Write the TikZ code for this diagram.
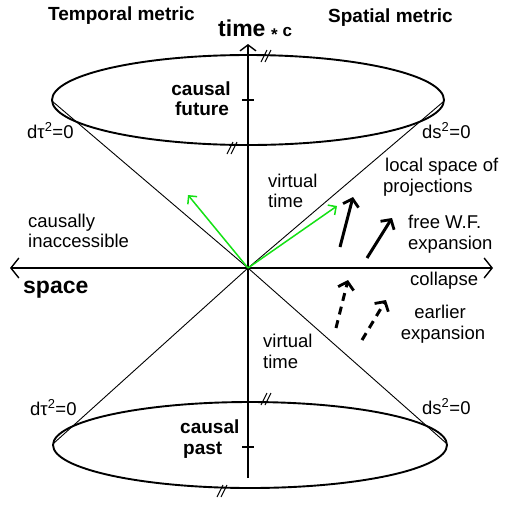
\documentclass[tikz,border=0pt]{standalone}
\usepackage{fontspec}
\setmainfont{Liberation Sans}
\usetikzlibrary{arrows.meta}
\definecolor{vgreen}{RGB}{20,225,20}
\begin{document}
\begin{tikzpicture}[x=1pt,y=-1pt,
  txt/.style={inner sep=0pt, anchor=base west, font=\fontsize{18.5}{22}\selectfont},
  ctxt/.style={txt, anchor=base},
  btxt/.style={inner sep=0pt, anchor=base west, font=\fontsize{19}{22}\selectfont\bfseries},
  cbtxt/.style={btxt, anchor=base},
  bigtxt/.style={inner sep=0pt, anchor=base west, font=\fontsize{23}{26}\selectfont\bfseries},
  axis/.style={line width=1.9pt},
  ell/.style={line width=1.9pt},
  cone/.style={line width=0.9pt},
  tick/.style={line width=1.5pt},
  garrow/.style={draw=vgreen, line width=1.5pt, -{Straight Barb[length=6pt,width=12pt,line width=1.5pt]}},
  barrow/.style={line width=3pt, -{Straight Barb[length=7pt,width=16pt,line width=2.8pt]}},
  darrow/.style={barrow, dash pattern=on 8pt off 6pt},
  brk/.pic={\draw[line width=1pt] (-5,6) -- (1,-6) (-1,6) -- (5,-6);}
]
\useasboundingbox (0,0) rectangle (508,507);
% key points
\coordinate (O) at (248,268);
\coordinate (yt) at (248,44);
\coordinate (yb) at (248,478);
\coordinate (xl) at (10,268);
\coordinate (xr) at (493,268);
\coordinate (tl) at (52,101);
\coordinate (tr) at (443,102);
\coordinate (bl) at (54,443);
\coordinate (br) at (446,443);
% ellipses
\draw[ell] (248,100) ellipse [x radius=196, y radius=45];
\draw[ell] (250,445) ellipse [x radius=197, y radius=43];
% cone lines
\draw[cone] (tl) -- (O) -- (br);
\draw[cone] (tr) -- (O) -- (bl);
% axes
\draw[axis, {Straight Barb[length=8pt,width=20pt,line width=1.4pt]}-{Straight Barb[length=8pt,width=20pt,line width=1.4pt]}] (xl) -- (xr);
\draw[axis, -{Straight Barb[length=6pt,width=16pt,line width=1.4pt]}] (yb) -- (yt);
% ticks
\coordinate (t1a) at (242,100); \coordinate (t1b) at (254,100);
\coordinate (t2a) at (242,447); \coordinate (t2b) at (254,447);
\draw[tick] (t1a) -- (t1b);
\draw[tick] (t2a) -- (t2b);
% break marks
\pic at (266,56) {brk};
\pic at (232,148) {brk};
\pic at (266,399) {brk};
\pic at (222,491) {brk};
% green arrows
\coordinate (g1) at (188,195);
\coordinate (g2) at (337,206);
\draw[garrow] (O) -- (g1);
\draw[garrow] (O) -- (g2);
% black arrows
\coordinate (a1s) at (340,247); \coordinate (a1e) at (353,197);
\coordinate (a2s) at (367,258); \coordinate (a2e) at (392,218);
\coordinate (d1s) at (336,328); \coordinate (d1e) at (348,280);
\coordinate (d2s) at (362,340); \coordinate (d2e) at (386,300);
\draw[barrow] (a1s) -- (a1e);
\draw[barrow] (a2s) -- (a2e);
\draw[darrow] (d1s) -- (d1e);
\draw[darrow] (d2s) -- (d2e);
% texts
\node[btxt] (tm) at (48,20) {Temporal metric};
\node[btxt] (sm) at (328,22) {Spatial metric};
\node[bigtxt] (time) at (218,36) {time};
\node[inner sep=0pt, anchor=base west, font=\fontsize{17}{20}\selectfont\bfseries] (tc) at (271,36) {\raisebox{-4pt}{*} c};
\node[cbtxt] (cf1) at (201,95) {causal};
\node[cbtxt] (cf2) at (202,115) {future};
\node[txt] (dt1) at (27,138) {dτ\textsuperscript{2}=0};
\node[txt] (ds1) at (422,138) {ds\textsuperscript{2}=0};
\node[txt] (dt2) at (30,415) {dτ\textsuperscript{2}=0};
\node[txt] (ds2) at (422,414) {ds\textsuperscript{2}=0};
\node[txt] (lsp1) at (385,171) {local space of};
\node[txt] (lsp2) at (383,192) {projections};
\node[txt] (vt1) at (268,187) {virtual};
\node[txt] (vt2) at (268,207) {time};
\node[txt] (ci1) at (28,227) {causally};
\node[txt] (ci2) at (28,247) {inaccessible};
\node[txt] (fw1) at (408,228) {free W.F.};
\node[txt] (fw2) at (408,249) {expansion};
\node[bigtxt] (sp) at (23,293) {space};
\node[txt] (col) at (410,285) {collapse};
\node[ctxt] (ee1) at (440,318) {earlier};
\node[ctxt] (ee2) at (443,339) {expansion};
\node[txt] (vb1) at (263,347) {virtual};
\node[txt] (vb2) at (263,368) {time};
\node[btxt] (cp1) at (180,433) {causal};
\node[btxt] (cp2) at (183,454) {past};
\end{tikzpicture}
\end{document}
